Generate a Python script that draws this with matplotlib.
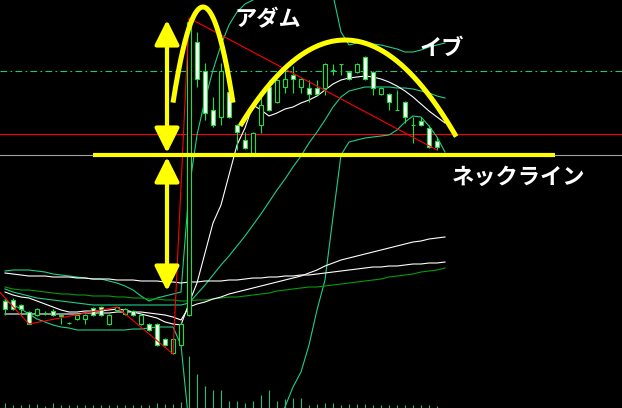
import numpy as np
import matplotlib
matplotlib.use("Agg")
import matplotlib.pyplot as plt

# levels are chart levels as on screen: small = high price (the y axis is flipped)
opens  = [301,300,305,312,315,313,311,316,323,319,319,308,307,324,310,314,311,324,324,324,339,353,345,315,
          42,71,110,117,92,125,140,153,125,87,102,87,75,87,88,88,88,70,64,72,72,57,72,94,94,110,102,125,121,128,141]
highs  = [299,298,304,311,308,311,309,314,322,314,314,307,306,314,307,308,310,314,323,323,338,338,322,18,
          32,63,97,63,80,124,132,132,96,80,79,66,66,78,80,80,63,64,64,71,63,56,71,87,93,90,101,117,117,125,137]
lows   = [315,310,315,324,316,315,316,324,324,320,324,316,316,325,311,315,316,325,331,346,346,354,346,316,
          87,120,127,125,118,150,149,155,133,111,103,93,93,93,102,95,95,75,75,80,73,80,95,95,110,110,123,143,126,148,150]
closes = [309,309,309,324,309,313,315,315,323,315,315,315,315,315,307,309,315,315,330,345,345,339,324,22,
          79,113,125,71,117,132,148,133,105,110,80,79,79,79,94,94,64,70,64,79,64,79,88,88,102,110,117,125,125,147,147]
volume = [5,3,3,4,4,2,5,3,3,3,3,3,3,3,3,3,3,3,3,5,4,4,6,52,34,22,18,18,7,7,
          5,7,13,18,7,9,10,10,3,4,5,5,3,4,4,4,3,3,3,3,3,3,3,3,2]

# indicator values per bar (bar 0..55)
fast_ma = [292,295,297,298,301,304,307,310,312,312,311,311,311,310,309,310,312,314,316,318,322,324,325,
           303,283,253,223,205,175,145,128,105,110,116,113,109,107,103,100,96,90,84,80,78,77,76,77,79,82,86,91,97,104,111,117,123]
mid_ma  = [314,314,314,314,314,314,314,314,314,314,313,313,313,313,312,312,312,312,313,314,315,317,320,
           307,304,302,299,297,294,292,290,288,286,284,282,280,278,276,273,270,266,263,260,258,256,254,252,250,248,246,244,242,241,239,238,237]
slow_ma = [273,274,275,276,276,276,277,277,277,278,278,279,279,279,280,280,280,281,281,281,282,282,283,
           282,282,281,281,281,280,280,279,278,278,277,277,276,276,275,275,274,273,272,271,270,269,268,267,267,266,266,265,264,264,263,263,262]
green_ma = [287,289,290,290,291,292,293,294,294,295,295,296,296,296,297,297,298,298,299,299,300,300,301,
            301,300,300,299,298,297,297,296,295,294,293,291,290,289,288,287,287,286,285,284,283,282,281,280,279,277,276,275,274,272,271,270,268]
bb_upper = [271,270,270,270,271,272,274,275,276,277,278,279,279,281,283,286,290,296,301,298,296,294,292,
            190,135,100,70,45,25,12,4,0,-8,-20,-30,-38,-42,-42,-38,-30,-18,-5,32,45,43,43,44,45,47,49,52,52,50,47,45,43]
bb_mid   = [289,292,294,296,298,299,300,301,302,303,304,305,305,305,305,305,305,305,305,305,305,305,305,
            303,294,285,275,265,256,246,236,225,214,202,190,179,167,156,143,132,120,107,97,91,89,87,87,87,87,88,88,89,91,93,96,98]
bb_lower = [300,305,309,314,319,322,325,327,328,330,330,330,330,330,330,330,329,329,328,327,327,327,345,
            425,455,470,480,485,487,485,480,470,460,445,425,407,387,372,345,310,280,217,155,142,140,138,137,136,135,130,122,116,117,126,137,152]

zigzag_bars = [-1, 3, 14, 21, 23, 54]
zigzag_lvls = [289, 324, 307, 354, 18, 150]

red_level = 134
gray_level = 155
dash_level = 71

# annotations: vertex bar, vertex level, left bar, right bar, curvature
adam_arc = (24.75, 7, 21.0, 28.5, 6.8)
eve_arc = (42.5, 40, 29.4, 56.4, 0.5)
neck_bars = (11, 68.75)
neck_level = 154.7
arrow_bar = 20.25
arrow_up = (20, 153)
arrow_down = (157, 291)

BG = "black"
CANDLE = "#1ee03c"
TEAL = "#1ecf8a"
YEL = "#ffff00"
LW = 0.8

fig = plt.figure(figsize=(6.22, 4.08), dpi=100, facecolor=BG)
ax = fig.add_axes([0, 0, 1, 1], facecolor=BG)
ax.set_xlim(-0.625, 77.125)
ax.set_ylim(408, 0)
ax.axis("off")

bars = np.arange(len(opens))
lbars = np.arange(len(fast_ma))

# horizontal levels
ax.axhline(red_level, color="#ff0000", lw=LW, zorder=1)
ax.axhline(gray_level, color="#a0a0a8", lw=LW, zorder=1)
ax.axhline(dash_level, color="#22c878", lw=LW, dashes=(6, 3, 1.5, 3), zorder=1)

# volume
ax.vlines(bars, 408, 408 - np.array(volume), color="#20c070", lw=LW, zorder=1)

# indicators
for vals, col in ((bb_upper, TEAL), (bb_mid, TEAL), (bb_lower, TEAL), (green_ma, "#0a9a0a"),
                  (slow_ma, "white"), (mid_ma, "white"), (fast_ma, "white")):
    ax.plot(lbars, vals, color=col, lw=LW, zorder=2)

# candles
o = np.array(opens); c = np.array(closes)
ax.vlines(bars, highs, lows, color=CANDLE, lw=LW, zorder=3)
fills = ["white" if cc > oo else "black" for oo, cc in zip(o, c)]
ax.bar(bars, np.abs(c - o), bottom=np.minimum(o, c), width=0.5, color=fills,
       edgecolor=CANDLE, linewidth=LW, zorder=4)

# zigzag
ax.plot(zigzag_bars, zigzag_lvls, color="#ff0000", lw=LW, zorder=5)

# yellow marks
ax.plot(neck_bars, [neck_level, neck_level], color=YEL, lw=3, solid_capstyle="butt", zorder=6)
for vx, vy, x0, x1, kk in (adam_arc, eve_arc):
    xs = np.linspace(x0, x1, 200)
    ax.plot(xs, vy + kk * (xs - vx) ** 2, color=YEL, lw=3.6, solid_capstyle="butt", zorder=6)
for y0, y1 in (arrow_up, arrow_down):
    ax.annotate("", xy=(arrow_bar, y0), xytext=(arrow_bar, y1),
                arrowprops=dict(arrowstyle="<|-|>,head_length=1.0,head_width=0.5",
                                mutation_scale=15, color=YEL, lw=3, shrinkA=0, shrinkB=0),
                zorder=6)

fam = ["Noto Sans CJK JP", "DejaVu Sans"]
ax.text(32.9, 20, "アダム", color="white", fontsize=16, fontweight="bold", family=fam,
        ha="center", va="center", zorder=7)
ax.text(54.6, 48, "イブ", color="white", fontsize=16, fontweight="bold", family=fam,
        ha="center", va="center", zorder=7)
ax.text(64.25, 177, "ネックライン", color="white", fontsize=16, fontweight="bold", family=fam,
        ha="center", va="center", zorder=7)

fig.savefig("out.png", dpi=100, facecolor=BG)
